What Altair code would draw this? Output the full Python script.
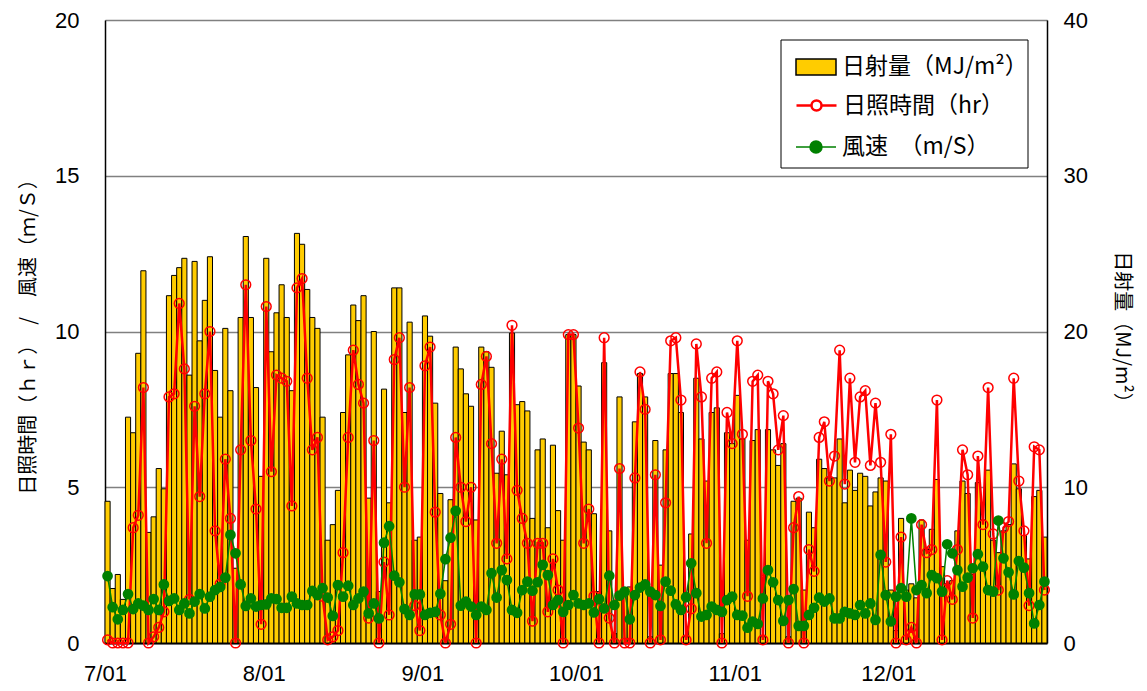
import altair as alt
import pandas as pd

# 日射量 (MJ/m2), right axis
solar = [
    9.1, 3.5, 4.4, 2.8, 14.5, 13.5, 18.6, 23.9, 7.1, 8.1,
    11.2, 9.9, 22.3, 23.6, 24.1, 24.7, 17.2, 24.5, 19.4, 22.0,
    24.8, 17.5, 14.5, 20.2, 16.2, 4.8, 20.9, 26.1, 20.9, 16.4,
    10.7, 24.7, 18.7, 21.2, 23.0, 20.9, 16.2, 26.3, 25.6, 22.7,
    20.9, 20.2, 14.5, 6.6, 7.6, 9.8, 14.8, 18.5, 21.7, 20.7,
    22.3, 9.3, 20.0, 3.3, 16.3, 9.0, 22.8, 22.8, 14.8, 20.6,
    6.6, 6.8, 21.0, 19.7, 15.4, 9.6, 4.0, 9.2, 19.0, 17.6,
    16.0, 15.2, 7.9, 19.0, 18.7, 17.7, 10.9, 13.6, 10.8, 19.9,
    15.3, 15.5, 14.9, 8.0, 12.4, 13.1, 7.4, 12.7, 8.5, 6.6,
    19.8, 19.8, 16.5, 12.9, 12.4, 8.3, 3.3, 18.0, 7.2, 0.6,
    15.8, 3.5, 3.6, 14.2, 17.3, 15.8, 0.4, 13.0, 5.0, 12.4,
    17.3, 17.3, 14.8, 0.4, 7.0, 17.0, 13.1, 10.4, 14.8, 15.1,
    0.6, 13.5, 12.8, 15.9, 13.1, 6.6, 13.0, 13.7, 0.4, 13.7,
    12.4, 11.4, 12.8, 0.4, 9.1, 9.3, 3.4, 8.4, 7.4, 11.8,
    11.2, 10.6, 10.6, 13.1, 9.0, 11.1, 9.8, 10.9, 10.7, 8.8,
    9.7, 10.6, 10.4, 3.4, 0.8, 8.0, 3.4, 3.8, 2.9, 7.9,
    6.0, 7.3, 10.5, 4.9, 3.8, 4.0, 7.2, 10.4, 9.6, 4.4,
    10.3, 7.9, 11.1, 6.6, 5.8, 7.2, 7.6, 11.5, 9.9, 6.9,
    5.4, 9.4, 9.8, 6.8,
]

# 日照時間 (hr), left axis
sunshine = [
    0.1, 0, 0, 0, 0, 3.7, 4.1, 8.2, 0, 0.2,
    0.5, 1.0, 7.9, 8.0, 10.9, 8.8, 1.4, 7.6, 4.7, 8.0,
    10.0, 3.6, 1.9, 5.9, 4.0, 0, 6.2, 11.5, 6.5, 4.3,
    0.6, 10.8, 5.5, 8.6, 8.5, 8.4, 4.4, 11.4, 11.7, 8.5,
    6.2, 6.6, 1.5, 0.1, 0.2, 0.4, 2.9, 6.6, 9.4, 8.3,
    7.7, 0.8, 6.5, 0, 2.6, 0.9, 9.1, 9.8, 5.0, 8.2,
    1.2, 0.4, 8.9, 9.5, 4.2, 0.9, 0, 0.6, 6.6, 5.0,
    3.9, 5.0, 0, 8.3, 9.2, 6.4, 3.2, 5.9, 2.7, 10.2,
    4.9, 4.0, 3.2, 0.7, 3.2, 3.2, 1.0, 2.7, 1.7, 0,
    9.9, 9.9, 6.9, 3.2, 4.3, 1.5, 0, 9.8, 0.8, 0,
    5.6, 0, 0, 5.3, 8.7, 7.5, 0, 5.4, 0.1, 4.5,
    9.7, 9.8, 7.8, 0.1, 1.1, 9.6, 7.9, 3.2, 8.5, 8.7,
    0, 7.4, 6.4, 9.7, 6.7, 1.5, 8.4, 8.6, 0.1, 8.4,
    8.0, 6.2, 7.3, 0, 3.7, 4.7, 0, 3.0, 2.3, 6.6,
    7.1, 5.2, 6.0, 9.4, 5.1, 8.5, 5.8, 7.9, 8.1, 5.7,
    7.7, 5.8, 2.6, 6.7, 0, 3.4, 0.1, 0.5, 0, 3.8,
    2.9, 3.0, 7.8, 0.1, 2.0, 1.4, 3.0, 6.2, 5.4, 0.8,
    6.0, 3.8, 8.2, 3.5, 1.7, 3.7, 3.9, 8.5, 5.2, 3.6,
    1.2, 6.3, 6.2, 1.7,
]

# 風速 (m/S), left axis
wind = [
    2.15, 1.15, 0.76, 1.06, 1.57, 1.09, 1.27, 1.2, 1.06, 1.41,
    1.06, 1.88, 1.35, 1.43, 1.06, 1.27, 0.95, 1.33, 1.57, 1.11,
    1.49, 1.7, 1.8, 2.1, 3.47, 2.88, 1.88, 1.19, 1.43, 1.17,
    1.22, 1.24, 1.43, 1.41, 1.13, 1.13, 1.49, 1.27, 1.22, 1.22,
    1.67, 1.54, 1.76, 1.46, 0.87, 1.86, 1.49, 1.84, 1.22, 1.43,
    1.65, 0.95, 1.27, 0.79, 3.22, 3.75, 2.16, 1.95, 1.09, 0.9,
    1.56, 1.56, 0.9, 0.97, 1.0, 1.58, 2.69, 3.38, 4.24, 1.2,
    1.33, 1.17, 0.9, 1.17, 1.06, 2.24, 1.46, 2.34, 2.02, 1.06,
    0.97, 1.7, 1.97, 1.68, 1.95, 2.51, 2.18, 1.22, 1.38, 1.0,
    1.22, 1.54, 1.27, 1.22, 1.27, 0.98, 1.41, 1.11, 2.16, 1.22,
    1.52, 1.65, 0.76, 1.54, 1.78, 1.88, 1.65, 1.54, 1.19, 1.97,
    1.68, 1.24, 1.06, 1.47, 2.56, 1.6, 0.85, 0.9, 1.17, 1.06,
    1.0, 1.38, 1.49, 0.9, 0.88, 0.49, 0.69, 0.61, 1.43, 2.34,
    1.95, 1.38, 0.71, 1.38, 1.73, 0.55, 0.55, 0.9, 1.13, 1.46,
    1.33, 1.43, 0.79, 0.79, 1.0, 0.95, 0.9, 1.22, 0.95, 1.27,
    0.74, 2.83, 1.54, 0.69, 1.49, 1.76, 1.49, 4.0, 1.7, 1.86,
    1.6, 2.18, 2.08, 1.65, 3.17, 2.88, 2.34, 1.81, 2.1, 2.4,
    2.85, 2.45, 1.7, 1.65, 3.93, 2.72, 2.27, 1.56, 2.63, 2.42,
    1.6, 0.63, 1.22, 1.97,
]

tick_days = [0, 31, 62, 92, 123, 153]
tick_labels = ["7/01", "8/01", "9/01", "10/01", "11/01", "12/01"]

lab_solar = "日射量（MJ/m²）"
lab_sun = "日照時間（hr）"
lab_wind = "風速　（m/S）"
title_left = "日照時間（ｈｒ）　/　風速（ｍ/Ｓ）"
title_right = "日射量（MJ/m²）"

n = len(solar)
assert len(sunshine) == n and len(wind) == n

df = pd.DataFrame({
    "day": list(range(n)),
    "solar": solar,
    "sun": sunshine,
    "wind": wind,
    "s_lab": [lab_solar] * n,
    "h_lab": [lab_sun] * n,
    "w_lab": [lab_wind] * n,
})

NUM_FONT = "Liberation Sans"
JP_FONT = "Noto Sans CJK JP"

label_expr = " : ".join(
    f"datum.value == {d} ? '{t}'" for d, t in zip(tick_days, tick_labels)
) + " : ''"

x_scale = alt.Scale(domain=[0, n], nice=False, zero=False)
x_axis = alt.Axis(
    values=tick_days, labelExpr=label_expr, title=None, grid=False, ticks=False,
    labelFontSize=22, labelPadding=20, labelFont=NUM_FONT, labelColor="black",
    domainColor="black", domainWidth=2, labelFlush=False, labelOverlap=False,
)

y_left_scale = alt.Scale(domain=[0, 20], nice=False, zero=True)
y_left_axis = alt.Axis(
    orient="left", values=[0, 5, 10, 15, 20], title=title_left,
    grid=True, gridColor="#808080", gridWidth=1.5, ticks=False,
    labelFontSize=22, labelPadding=26, labelFont=NUM_FONT, labelColor="black",
    titleFont=JP_FONT, titleFontSize=20, titleFontWeight="normal", titleColor="black",
    titlePadding=16, domainColor="black", domainWidth=1.5,
)

y_right_axis = alt.Axis(
    orient="right", values=[0, 10, 20, 30, 40], title=title_right, grid=False,
    ticks=False, labelFontSize=22, labelPadding=16, labelFont=NUM_FONT,
    labelColor="black", titleFont=JP_FONT, titleFontSize=20,
    titleFontWeight="normal", titleColor="black", titlePadding=24,
    titleAngle=90, domainColor="black", domainWidth=1.5,
)

base = alt.Chart(df).transform_calculate(
    d0="datum.day", d1="datum.day + 1", dc="datum.day + 0.5", z="0"
)

leg_common = dict(
    title=None, orient="none", padding=0, labelFont=JP_FONT, labelFontSize=23,
    labelColor="black", labelLimit=400, labelOffset=5, symbolSize=1600,
    legendX=690,
)

bars = base.mark_bar(stroke="black", strokeWidth=1, opacity=1).encode(
    x=alt.X("d0:Q", scale=x_scale, axis=x_axis),
    x2="d1:Q",
    y=alt.Y("solar:Q", scale=alt.Scale(domain=[0, 40], nice=False), axis=y_right_axis),
    y2="z:Q",
    fill=alt.Fill(
        "s_lab:N", scale=alt.Scale(range=["#FFCC00"]),
        legend=alt.Legend(
            legendY=26, symbolType="M-1,-0.4H1V0.4H-1Z", symbolStrokeColor="black",
            symbolStrokeWidth=1.5, **leg_common,
        ),
    ),
)

circle_path = "M0.25,0A0.25,0.25,0,1,1,-0.25,0A0.25,0.25,0,1,1,0.25,0"
sun_line = base.mark_line(strokeWidth=2.5).encode(
    x=alt.X("dc:Q", scale=x_scale, axis=x_axis),
    y=alt.Y("sun:Q", scale=y_left_scale, axis=y_left_axis),
    stroke=alt.Stroke(
        "h_lab:N", scale=alt.Scale(range=["#FF0000"]),
        legend=alt.Legend(
            legendY=64, symbolType="M-1,0H-0.25M0.25,0H1" + circle_path,
            symbolFillColor="white", symbolStrokeWidth=2.5, **leg_common,
        ),
    ),
)
sun_pts = base.mark_point(
    shape="circle", filled=False, color="#FF0000", size=95, strokeWidth=1.5, opacity=1
).encode(
    x=alt.X("dc:Q", scale=x_scale, axis=x_axis),
    y=alt.Y("sun:Q", scale=y_left_scale, axis=y_left_axis),
)

wind_circle = "M0.3,0A0.3,0.3,0,1,1,-0.3,0A0.3,0.3,0,1,1,0.3,0"
wind_line = base.mark_line(strokeWidth=1.5).encode(
    x=alt.X("dc:Q", scale=x_scale, axis=x_axis),
    y=alt.Y("wind:Q", scale=y_left_scale, axis=y_left_axis),
    stroke=alt.Stroke(
        "w_lab:N", scale=alt.Scale(range=["#008000"]),
        legend=alt.Legend(
            legendY=106, symbolType="M-1,0H1" + wind_circle,
            symbolFillColor="#008000", symbolStrokeWidth=1.5, **leg_common,
        ),
    ),
)
wind_pts = base.mark_circle(color="#008000", size=115, opacity=1).encode(
    x=alt.X("dc:Q", scale=x_scale, axis=x_axis),
    y=alt.Y("wind:Q", scale=y_left_scale, axis=y_left_axis),
)

lines = alt.layer(sun_line, sun_pts, wind_line, wind_pts).resolve_scale(
    stroke="independent"
).resolve_legend(stroke="independent")

box = alt.Chart(pd.DataFrame({"k": [0]})).mark_rect(
    fill="white", stroke="black", strokeWidth=1
).encode(
    x=alt.value(676), x2=alt.value(923), y=alt.value(20), y2=alt.value(148)
)

chart = alt.layer(bars, lines, box).resolve_scale(y="independent").properties(
    width=942, height=623,
    autosize=alt.AutoSizeParams(type="none"),
    padding={"left": 97, "top": 12, "right": 92, "bottom": 46},
).configure_view(stroke="black", strokeWidth=1).configure(background="white")

chart.save("out.html", embed_options={"renderer": "svg", "actions": False})
